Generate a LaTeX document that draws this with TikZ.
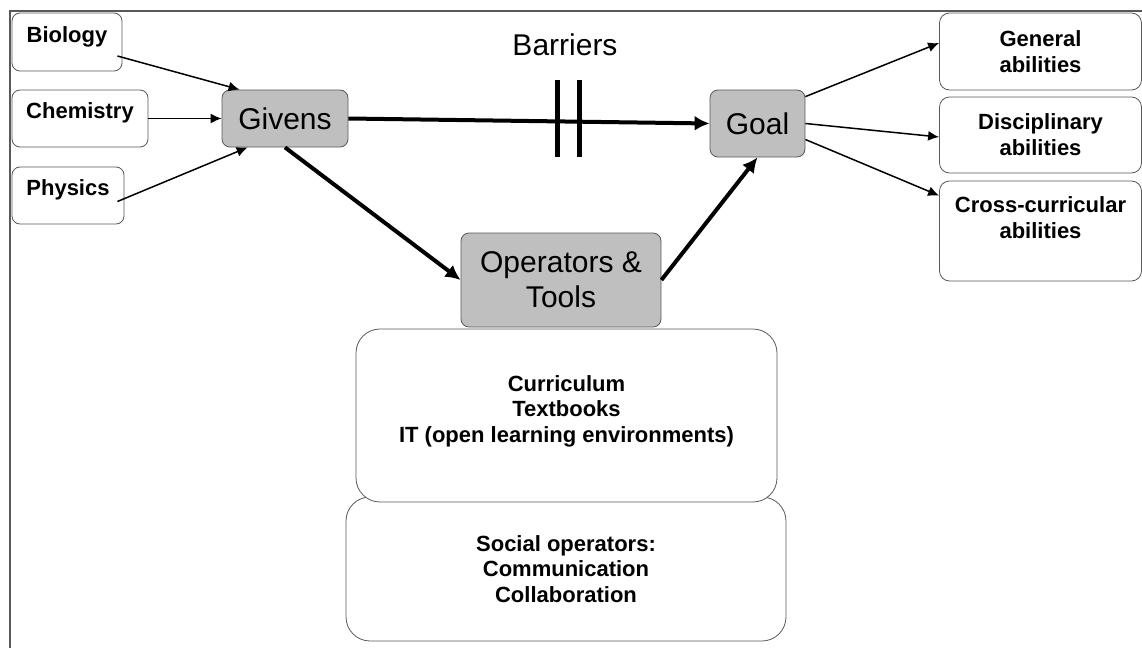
\documentclass[tikz,border=0pt]{standalone}
\usepackage{fontspec}
\setmainfont{Liberation Sans}
\usetikzlibrary{arrows.meta}
\tikzset{
  subject/.style={draw=black!65, rounded corners=4pt, inner sep=0pt, align=center,
    font=\bfseries\fontsize{11}{13}\selectfont, text height=8pt, text depth=8pt},
  core/.style={draw=black!65, fill=black!25, rounded corners=4pt, inner sep=0pt, align=center,
    font=\fontsize{15}{17.5}\selectfont},
  outcome/.style={draw=black!65, rounded corners=5pt, inner sep=0pt, align=center,
    font=\bfseries\fontsize{11}{13}\selectfont},
  toolbox/.style={draw=black!65, fill=white, rounded corners=12pt, inner sep=0pt, align=center,
    font=\bfseries\fontsize{11}{12.8}\selectfont},
  feed/.style={black, line width=0.75pt, -{Latex[length=5.5pt,width=5pt]}},
  path/.style={black, line width=2pt, -{Latex[length=7.5pt,width=7.5pt]}}
}
\begin{document}
\begin{tikzpicture}[x=0.5pt,y=-0.5pt]
  \useasboundingbox (0,0) rectangle (1142,648);
  % frame
  \draw [black!65, line width=0.6pt] (10,648) -- (10,11) -- (1142,11);
         \node (bio) at (67,42)[subject, minimum width=55pt, minimum height=29pt]{Biology};
         \node (chem) at (80,118.5)[subject, minimum width=68pt, minimum height=28.5pt]{Chemistry};
         \node (phys) at (68,195.5)[subject, minimum width=56pt, minimum height=28.5pt]{Physics};
         \node (givens) at (285,118.5)[core, minimum width=63pt, minimum height=28.5pt]{Givens};
         \node (goal) at (757.5,123.5)[core, minimum width=47.5pt, minimum height=33.5pt]{Goal};
         \node (ops) at (561,280)[core, minimum width=100pt, minimum height=47pt]{Operators \&\\Tools};
         \node (gen) at (1040.5,51.5)[outcome, minimum width=101pt, minimum height=38.5pt]{General\\abilities};
         \node (disc) at (1040.5,135)[outcome, minimum width=101pt, minimum height=38pt]{Disciplinary\\abilities};
         \node (cross) at (1040.5,231)[outcome, minimum width=101pt, minimum height=50pt]{Cross-curricular\\abilities\\~};
         \node (soc) at (566,569)[toolbox, minimum width=220pt, minimum height=72pt]{Social operators:\\Communication\\Collaboration};
         \node (curr) at (566.5,415.5)[toolbox, minimum width=210.5pt, minimum height=86.5pt, text depth=6.5pt]{Curriculum\\Textbooks\\IT (open learning environments)};
         \node (barlbl) at (565,45)[font=\fontsize{15}{17.5}\selectfont]{Barriers};
  % barrier bars
  \coordinate (bar1) at (557,80);
  \coordinate (bar2) at (579,80);
         \draw [black, line width=2.5pt] (bar1) -- ++(0,77);
         \draw [black, line width=2.5pt] (bar2) -- ++(0,77);
  % connectors
         \draw [feed] ([xshift=-2.5pt,yshift=-7pt]bio.east) -- ([xshift=9pt]givens.north west);
         \draw [feed] (chem.east) -- (givens.west);
         \draw [feed] ([xshift=-3.5pt,yshift=-3pt]phys.east) -- ([xshift=13pt]givens.south west);
         \draw [path] (givens.east) -- (goal.west);
         \draw [path] (givens.south) -- (ops.west);
         \draw [path] (ops.east) -- (goal.south);
         \draw [feed] ([yshift=-3.5pt]goal.north east) -- ([yshift=4.25pt]gen.west);
         \draw [feed] (goal.east) -- ([yshift=-1pt]disc.west);
         \draw [feed] ([yshift=-8pt]goal.east) -- ([yshift=-7.5pt]cross.north west);
\end{tikzpicture}
\end{document}
